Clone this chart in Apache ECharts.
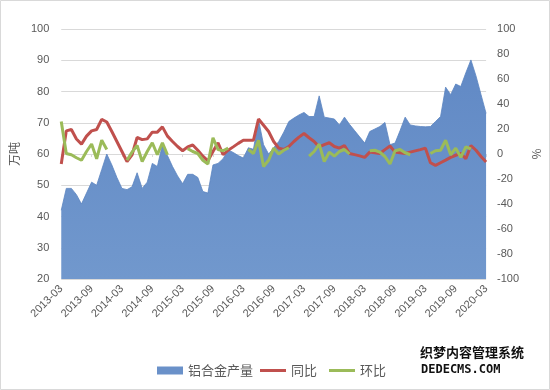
<!DOCTYPE html>
<html>
<head>
<meta charset="utf-8">
<script src="https://cdn.jsdelivr.net/npm/echarts@6/dist/echarts.min.js"></script>
<style>
html,body{margin:0;padding:0;background:#fff;}
#c{width:550px;height:390px;}
</style>
</head>
<body>
<div id="c"></div>
<script>
var categories = [
'2013-03','2013-04','2013-05','2013-06','2013-07','2013-08','2013-09','2013-10','2013-11','2013-12',
'2014-01','2014-02','2014-03','2014-04','2014-05','2014-06','2014-07','2014-08','2014-09','2014-10','2014-11','2014-12',
'2015-01','2015-02','2015-03','2015-04','2015-05','2015-06','2015-07','2015-08','2015-09','2015-10','2015-11','2015-12',
'2016-01','2016-02','2016-03','2016-04','2016-05','2016-06','2016-07','2016-08','2016-09','2016-10','2016-11','2016-12',
'2017-01','2017-02','2017-03','2017-04','2017-05','2017-06','2017-07','2017-08','2017-09','2017-10','2017-11','2017-12',
'2018-01','2018-02','2018-03','2018-04','2018-05','2018-06','2018-07','2018-08','2018-09','2018-10','2018-11','2018-12',
'2019-01','2019-02','2019-03','2019-04','2019-05','2019-06','2019-07','2019-08','2019-09','2019-10','2019-11','2019-12',
'2020-01','2020-02','2020-03'
];
// 铝合金产量 (万吨)
var output = [
42,49,49,47,44,47.5,51,50,55,60,
56.5,52.5,49,48.6,49.5,54,49,51,57,56,63,59.5,
56,53,50.5,53.5,53.5,52.5,48,47.5,56.5,57,58.5,61.3,
60.5,59.5,58.7,62,61.5,71,63,60,62,64,67,70.4,
71.5,72.5,73.3,72,72,78.6,71.8,71.5,71.2,69.3,71.8,69.5,
67.5,65.5,63.5,67.2,68,68.8,70.1,63,63.5,67.5,71.8,69.3,
69,68.8,68.7,68.8,70.4,72,81.4,79,82.4,81.6,86,90.1,
85,79,73
];
// 同比 (%)
var yoy = [
-8,18.5,19.6,12,7.9,14.3,18.5,19.6,27.7,25.6,
18,10,2,-6,-0.6,13.2,11.5,12.1,17.5,17.5,21.7,14.3,
10,6,2.6,5.7,7.2,3,-1.7,-5.5,2,9,-0.6,3,
5.7,8.5,11,11,11,28,23,18,10,4.7,3.6,6,
10,13.5,16.4,13,10,5.7,7.5,9,6,4.7,6.8,0.4,
-0.5,-1.5,-2.7,1.5,1,0.4,3.5,6.4,1.5,1,0.4,1.5,
2.5,3.5,4.7,-7,-9.1,-7,-4.9,-2.7,-1,0.4,-3.8,6.8,
3,-2,-6.4
];
// 环比 (%)
var mom = [
26,0.4,-0.6,-3,-5,2,8,-3.8,11,3.6,
null,null,null,-5,1.5,6.8,-6,2,9,-0.6,9,-0.6,
null,null,null,4.3,2,0.4,-5,-8,13,3.5,2.6,4.7,
null,null,null,3.6,0.4,11,-10,-5,4.7,0,3,5,
null,null,null,-1.7,2,7.9,-6,1.5,-1.7,2,3.6,0,
null,null,null,2.6,3,1.5,-2,-8,2.6,3.6,1,-0.6,
null,null,null,0.4,2.6,3,11,-0.6,4.7,-2.7,5.7,4,
null,null,null
];
var leftTicks = {min:20, max:100, interval:10};
var rightTicks = {min:-100, max:100, interval:20};
var seriesNames = ['铝合金产量','同比','环比'];

var chart = echarts.init(document.getElementById('c'), null, {renderer:'canvas'});
var fontFam = '"Noto Sans CJK SC", "Microsoft YaHei", sans-serif';
var numFont = '"Liberation Sans", Arial, sans-serif';
var labelColor = '#595959';
chart.setOption({
  animation:false,
  textStyle:{fontFamily:fontFam},
  grid:{left:57, right:56, top:29, bottom:111, containLabel:false},
  graphic:[
    {type:'rect', shape:{x:0.5,y:0.5,width:549,height:389}, style:{fill:'none', stroke:'#d9d9d9', lineWidth:1}, silent:true},
    {type:'text', left:420, top:346, style:{text:'织梦内容管理系统', fill:'#111', font:'bold 13px "Noto Sans CJK SC"'}},
    {type:'text', left:421, top:364, style:{text:'DEDECMS.COM', fill:'#111', font:'bold 12px "DejaVu Sans Mono"'}}
  ],
  legend:[
    {data:[{name:seriesNames[0], icon:'rect'}], left:152, top:359, itemWidth:26, itemHeight:8, itemGap:10,
     textStyle:{color:labelColor, fontSize:13, fontFamily:fontFam}},
    {data:[{name:seriesNames[1], icon:'rect'},{name:seriesNames[2], icon:'rect'}], left:255, top:359, itemWidth:26, itemHeight:3, itemGap:12,
     textStyle:{color:labelColor, fontSize:13, fontFamily:fontFam}}
  ],
  xAxis:{
    type:'category', data:categories, boundaryGap:false,
    axisLine:{lineStyle:{color:'#d9d9d9'}},
    axisTick:{show:true, interval:5, alignWithLabel:true, length:3, lineStyle:{color:'#d9d9d9'}},
    axisLabel:{interval:5, rotate:45, color:labelColor, fontSize:11, margin:8, fontFamily:numFont},
    splitLine:{show:false}
  },
  yAxis:[
    {type:'value', min:leftTicks.min, max:leftTicks.max, interval:leftTicks.interval,
     name:'万吨', nameLocation:'middle', nameRotate:90, nameGap:35,
     nameTextStyle:{color:labelColor, fontSize:12, fontFamily:fontFam},
     axisLine:{show:false}, axisTick:{show:false},
     axisLabel:{color:labelColor, fontSize:11, margin:12, fontFamily:numFont},
     splitLine:{lineStyle:{color:'#d9d9d9'}}},
    {type:'value', min:rightTicks.min, max:rightTicks.max, interval:rightTicks.interval,
     name:'%', nameLocation:'middle', nameRotate:90, nameGap:40,
     nameTextStyle:{color:labelColor, fontSize:12},
     axisLine:{show:false}, axisTick:{show:false},
     axisLabel:{color:labelColor, fontSize:11, margin:11, fontFamily:numFont},
     splitLine:{show:false}}
  ],
  series:[
    {name:seriesNames[0], type:'line', yAxisIndex:0, data:output, showSymbol:false, symbol:'none',
     lineStyle:{width:0.8, color:'#5a84c0'}, itemStyle:{color:'#6a91c9'},
     areaStyle:{color:new echarts.graphic.LinearGradient(0,0,0,1,[{offset:0,color:'#6189c5'},{offset:1,color:'#7198cd'}]), opacity:1}},
    {name:seriesNames[1], type:'line', yAxisIndex:1, data:yoy, showSymbol:false, symbol:'none',
     lineStyle:{width:3, color:'#c0504d'}, itemStyle:{color:'#c0504d'}},
    {name:seriesNames[2], type:'line', yAxisIndex:1, data:mom, showSymbol:false, symbol:'none', connectNulls:false,
     lineStyle:{width:3, color:'#9bbb59'}, itemStyle:{color:'#9bbb59'}}
  ]
});
</script>
</body>
</html>
